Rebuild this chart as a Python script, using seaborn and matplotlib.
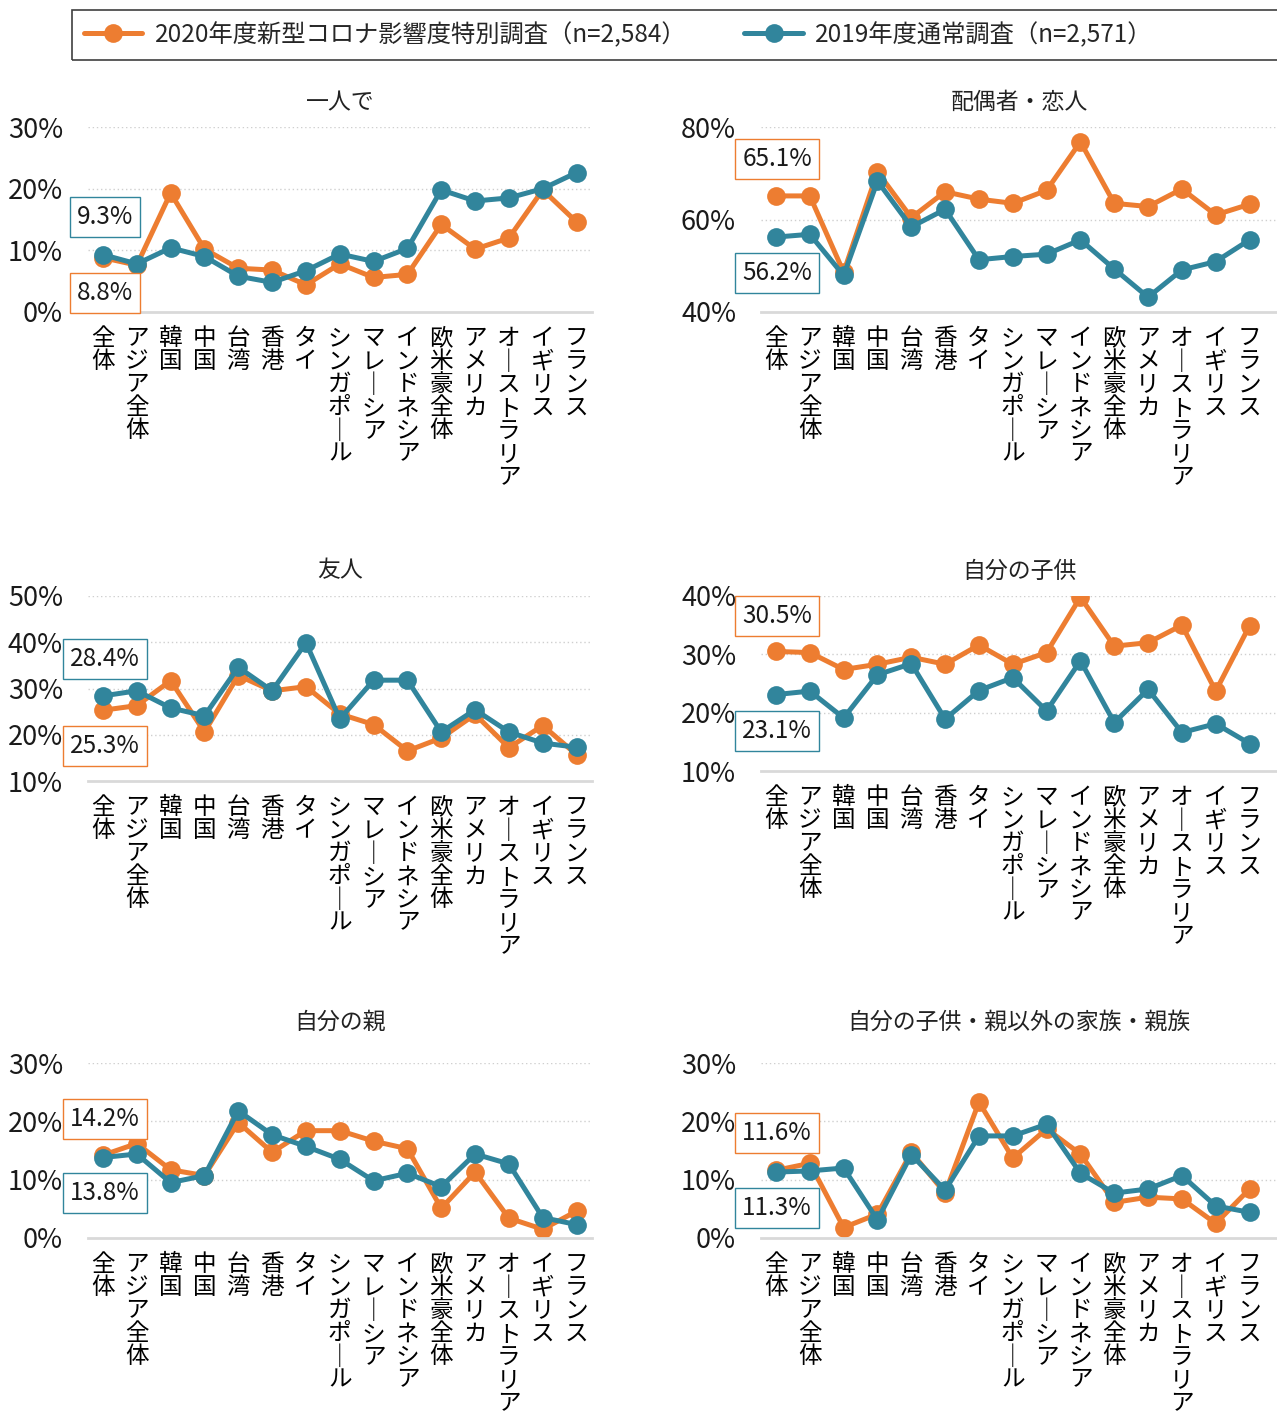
import matplotlib
matplotlib.use("Agg")
import matplotlib.pyplot as plt
from matplotlib.lines import Line2D
from matplotlib.patches import Rectangle
from matplotlib.ticker import FuncFormatter
import pandas as pd
import seaborn as sns

# Categories (x axis)
countries = ["全体", "アジア全体", "韓国", "中国", "台湾", "香港", "タイ", "シンガポール",
             "マレーシア", "インドネシア", "欧米豪全体", "アメリカ", "オーストラリア", "イギリス", "フランス"]

series_names = ["2020年度新型コロナ影響度特別調査（n=2,584）", "2019年度通常調査（n=2,571）"]

# Values in %
alone_2020 = [8.8, 7.6, 19.3, 10.2, 7.1, 6.8, 4.4, 7.8, 5.6, 6.1, 14.2, 10.2, 12.0, 19.8, 14.6]
alone_2019 = [9.3, 7.8, 10.4, 9.0, 5.8, 4.8, 6.7, 9.4, 8.2, 10.3, 19.8, 18.0, 18.5, 20.0, 22.6]

spouse_2020 = [65.1, 65.1, 48.6, 70.3, 60.4, 66.0, 64.4, 63.5, 66.3, 76.8, 63.5, 62.8, 66.6, 61.0, 63.3]
spouse_2019 = [56.2, 56.8, 47.9, 68.3, 58.4, 62.2, 51.3, 52.0, 52.5, 55.6, 49.3, 43.2, 49.1, 50.9, 55.6]

friend_2020 = [25.3, 26.3, 31.7, 20.6, 32.8, 29.5, 30.4, 24.5, 22.2, 16.5, 19.3, 24.4, 17.2, 22.0, 15.7]
friend_2019 = [28.4, 29.5, 25.8, 24.1, 34.6, 29.5, 39.9, 23.4, 31.8, 31.8, 20.6, 25.4, 20.6, 18.2, 17.3]

child_2020 = [30.5, 30.3, 27.4, 28.3, 29.5, 28.3, 31.6, 28.3, 30.3, 39.8, 31.4, 32.0, 35.0, 23.7, 34.9]
child_2019 = [23.1, 23.7, 19.1, 26.5, 28.4, 18.9, 23.8, 26.0, 20.3, 28.9, 18.3, 24.0, 16.6, 18.1, 14.7]

parent_2020 = [14.2, 16.2, 11.7, 10.7, 19.8, 14.7, 18.4, 18.4, 16.6, 15.3, 5.1, 11.3, 3.4, 1.5, 4.6]
parent_2019 = [13.8, 14.4, 9.5, 10.7, 21.8, 17.7, 15.7, 13.5, 9.8, 11.1, 8.8, 14.4, 12.7, 3.5, 2.3]

family_2020 = [11.6, 12.8, 1.8, 4.1, 14.7, 7.7, 23.3, 13.7, 18.7, 14.4, 6.1, 7.0, 6.7, 2.5, 8.4]
family_2019 = [11.3, 11.5, 12.0, 3.1, 14.3, 8.2, 17.5, 17.5, 19.5, 11.1, 7.7, 8.4, 10.7, 5.5, 4.4]

titles = ["一人で", "配偶者・恋人", "友人", "自分の子供", "自分の親", "自分の子供・親以外の家族・親族"]
yticks = [[0, 10, 20, 30], [40, 60, 80], [10, 20, 30, 40, 50], [10, 20, 30, 40], [0, 10, 20, 30], [0, 10, 20, 30]]
panels = [(alone_2020, alone_2019), (spouse_2020, spouse_2019), (friend_2020, friend_2019),
          (child_2020, child_2019), (parent_2020, parent_2019), (family_2020, family_2019)]

ORANGE = "#ED7D31"
TEAL = "#31859C"

sns.set_theme(style="white")
plt.rcParams["font.family"] = ["Noto Sans CJK JP", "DejaVu Sans"]

W, H = 1277, 1418
fig = plt.figure(figsize=(W / 100, H / 100), dpi=100)

# axes boxes in pixels: left, top, right, bottom
boxes = [(88, 127, 592, 312), (761, 127, 1277, 312),
         (88, 596, 592, 781), (761, 596, 1277, 771),
         (88, 1063, 592, 1238), (761, 1063, 1277, 1238)]
title_offsets = [24, 25, 25, 25, 41, 41]
# label boxes: (center x, center y) for 2020 and 2019
label_pos = [((105, 293), (105, 217)), ((777, 159), (777, 273)),
             ((105, 746), (105, 659)), ((777, 616), (777, 731)),
             ((105, 1119), (105, 1193)), ((777, 1133), (777, 1208))]

step = 504 / 14.9


def vertical(s):
    return "\n".join("｜" if c == "ー" else c for c in s)


for i, (v20, v19) in enumerate(panels):
    l, t, r, b = boxes[i]
    ax = fig.add_axes([l / W, 1 - b / H, (r - l) / W, (b - t) / H])
    df = pd.DataFrame({
        "pos": list(range(len(countries))) * 2,
        "value": v20 + v19,
        "series": [series_names[0]] * len(countries) + [series_names[1]] * len(countries),
    })
    sns.lineplot(data=df, x="pos", y="value", hue="series", hue_order=series_names,
                 palette=[ORANGE, TEAL], marker="o", markersize=13.5, markeredgewidth=0,
                 linewidth=3.6, sort=False, legend=False, ax=ax, zorder=2)
    x0 = -(15 / step)
    ax.set_xlim(x0, x0 + (r - l) / step)
    ax.set_ylim(yticks[i][0], yticks[i][-1])
    ax.set_yticks(yticks[i])
    ax.yaxis.set_major_formatter(FuncFormatter(lambda v, p: f"{v:.0f}%"))
    ax.set_xticks(range(len(countries)))
    ax.set_xticklabels([vertical(c) for c in countries], linespacing=1.0, va="top")
    ax.tick_params(axis="x", length=0, pad=11, labelsize=17, colors="black")
    ax.tick_params(axis="y", length=0, pad=18, labelsize=19.5, colors="#1a1a1a")
    ax.set_xlabel("")
    ax.set_ylabel("")
    ax.grid(False)
    for yv in yticks[i][1:]:
        ax.axhline(yv, linestyle=(0, (1, 2)), color="#CFCFCF", linewidth=1, zorder=1)
    ax.yaxis.set_zorder(5)
    for s in ["top", "right", "left"]:
        ax.spines[s].set_visible(False)
    ax.spines["bottom"].set_color("#D9D9D9")
    ax.spines["bottom"].set_linewidth(2)
    ax.annotate(titles[i], xy=(0.5, 1), xycoords="axes fraction",
                xytext=(0, title_offsets[i] * 0.72), textcoords="offset points",
                ha="center", va="center", fontsize=16.5, color="#222222")
    for val, (cx, cy), col in zip((v20[0], v19[0]), label_pos[i], (ORANGE, TEAL)):
        ax.text(cx / W, 1 - cy / H, f"{val:.1f}%", transform=fig.transFigure, ha="center", va="center",
                fontsize=17.5, color="#1a1a1a", zorder=4, clip_on=False,
                bbox=dict(boxstyle="square,pad=0.3", facecolor="white", edgecolor=col, linewidth=1))

# legend
fig.patches.append(Rectangle((72 / W, 1 - 60 / H), (W - 60) / W, 50 / H, transform=fig.transFigure,
                             fill=False, edgecolor="#404040", linewidth=1.2))
handles = [Line2D([], [], color=c, marker="o", markersize=13.5, markeredgewidth=0, linewidth=3.6)
           for c in (ORANGE, TEAL)]
fig.legend(handles, series_names, loc="center left", bbox_to_anchor=(84 / W, 1 - 35 / H), ncol=2,
           frameon=False, fontsize=17.5, handlelength=2.4, handletextpad=0.5, columnspacing=2.4,
           borderaxespad=0, borderpad=0)

fig.savefig("out.png", dpi=100)
